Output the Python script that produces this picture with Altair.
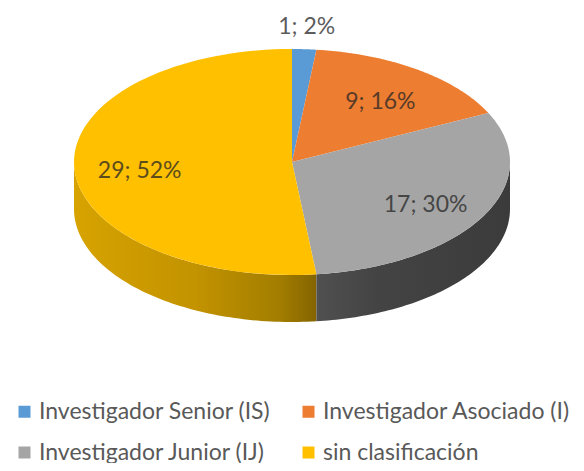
import altair as alt
import pandas as pd

# ---- data ----
categories = [
    "Investigador Senior (IS)",
    "Investigador Asociado (I)",
    "Investigador Junior (IJ)",
    "sin clasificación",
]
counts = [1, 9, 17, 29]
top_colors = ["#5B9BD5", "#ED7D31", "#A5A5A5", "#FFC000"]

df = pd.DataFrame({"category": categories, "count": counts, "order": list(range(len(categories)))})

# ---- geometry of the tilted pie (chart pixel units) ----
W, H = 568, 455
CX, CY = 284, 154
RX, RY = 218, 113
DEPTH = 47
N = 80

xs = alt.Scale(domain=[0, W], nice=False, zero=False)
ys = alt.Scale(domain=[0, H], nice=False, zero=False, reverse=True)
color_scale = alt.Scale(domain=categories, range=top_colors)

base = (
    alt.Chart(df)
    .transform_joinaggregate(total="sum(count)")
    .transform_window(cum="sum(count)", sort=[alt.SortField("order")], frame=[None, 0])
    .transform_calculate(
        a0="2*PI*(datum.cum - datum.count)/datum.total",
        a1="2*PI*datum.cum/datum.total",
    )
)

legend = alt.Legend(
    title=None,
    orient="none",
    direction="horizontal",
    legendX=5,
    legendY=392,
    columns=2,
    columnPadding=26,
    rowPadding=17,
    symbolType="square",
    symbolSize=144,
    symbolStrokeWidth=0,
    symbolOpacity=1,
    labelFont="Lato",
    labelFontSize=23,
    labelColor="#595959",
    labelOffset=3,
    labelLimit=400,
    padding=0,
)

# top faces: arc points then the centre
top = (
    base.transform_calculate(steps=f"sequence(0, {N + 2})")
    .transform_flatten(["steps"])
    .transform_calculate(
        theta=f"datum.a0 + (datum.a1 - datum.a0) * min(datum.steps, {N}) / {N}"
    )
    .transform_calculate(
        px=f"datum.steps > {N} ? {CX} : {CX} + {RX} * sin(datum.theta)",
        py=f"datum.steps > {N} ? {CY} : {CY} - {RY} * cos(datum.theta)",
    )
    .mark_line(interpolate="linear-closed", strokeWidth=0)
    .encode(
        x=alt.X("px:Q", scale=xs, axis=None),
        y=alt.Y("py:Q", scale=ys, axis=None),
        fill=alt.Fill("category:N", scale=color_scale, legend=legend),
        order=alt.Order("steps:Q"),
    )
)

# side walls (visible front half only)
side = (
    base.transform_calculate(b0="max(datum.a0, PI/2)", b1="min(datum.a1, 3*PI/2)")
    .transform_filter("datum.b1 > datum.b0")
    .transform_calculate(steps=f"sequence(0, {2 * N + 2})")
    .transform_flatten(["steps"])
    .transform_calculate(
        k=f"datum.steps <= {N} ? datum.steps : {2 * N + 1} - datum.steps"
    )
    .transform_calculate(theta=f"datum.b0 + (datum.b1 - datum.b0) * datum.k / {N}")
    .transform_calculate(
        px=f"{CX} + {RX} * sin(datum.theta)",
        py=f"{CY} - {RY} * cos(datum.theta) + (datum.steps > {N} ? {DEPTH} : 0)",
    )
)

def side_layer(cat, stops):
    grad = alt.Gradient(
        gradient="linear",
        stops=[alt.GradientStop(offset=o, color=c) for o, c in stops],
        x1=0, x2=1, y1=0, y2=0,
    )
    return (
        side.transform_filter(alt.datum.category == cat)
        .mark_line(interpolate="linear-closed", fill=grad, strokeWidth=0)
        .encode(
            x=alt.X("px:Q", scale=xs, axis=None),
            y=alt.Y("py:Q", scale=ys, axis=None),
            order=alt.Order("steps:Q"),
        )
    )

side_yellow = side_layer(
    categories[3],
    [(0, "#D6A300"), (0.5, "#C39300"), (0.85, "#A27D00"), (1, "#846400")],
)
side_gray = side_layer(
    categories[2],
    [(0, "#505050"), (0.3, "#444444"), (1, "#3B3B3B")],
)

# data labels
labels = (
    base.transform_calculate(
        mid="(datum.a0 + datum.a1) / 2",
        frac="datum.count / datum.total",
    )
    .transform_calculate(
        f="datum.frac < 0.05 ? 1.2 : 0.7",
        dy="datum.frac < 0.05 ? 0 : 5",
        label="datum.count + '; ' + format(datum.frac, '.0%')",
    )
    .transform_calculate(
        lx=f"{CX} + {RX} * datum.f * sin(datum.mid)",
        ly=f"{CY} - {RY} * datum.f * cos(datum.mid) + datum.dy",
    )
    .mark_text(font="Lato", fontSize=23, color="#262626", opacity=0.75, baseline="middle", align="center")
    .encode(
        x=alt.X("lx:Q", scale=xs, axis=None),
        y=alt.Y("ly:Q", scale=ys, axis=None),
        text="label:N",
    )
)

chart = (
    alt.layer(side_yellow, side_gray, top, labels)
    .properties(width=W, height=H, autosize=alt.AutoSizeParams(type="none"), padding=0)
    .configure_view(stroke=None)
)

chart.save("out.html", embed_options={"renderer": "svg", "actions": False})
